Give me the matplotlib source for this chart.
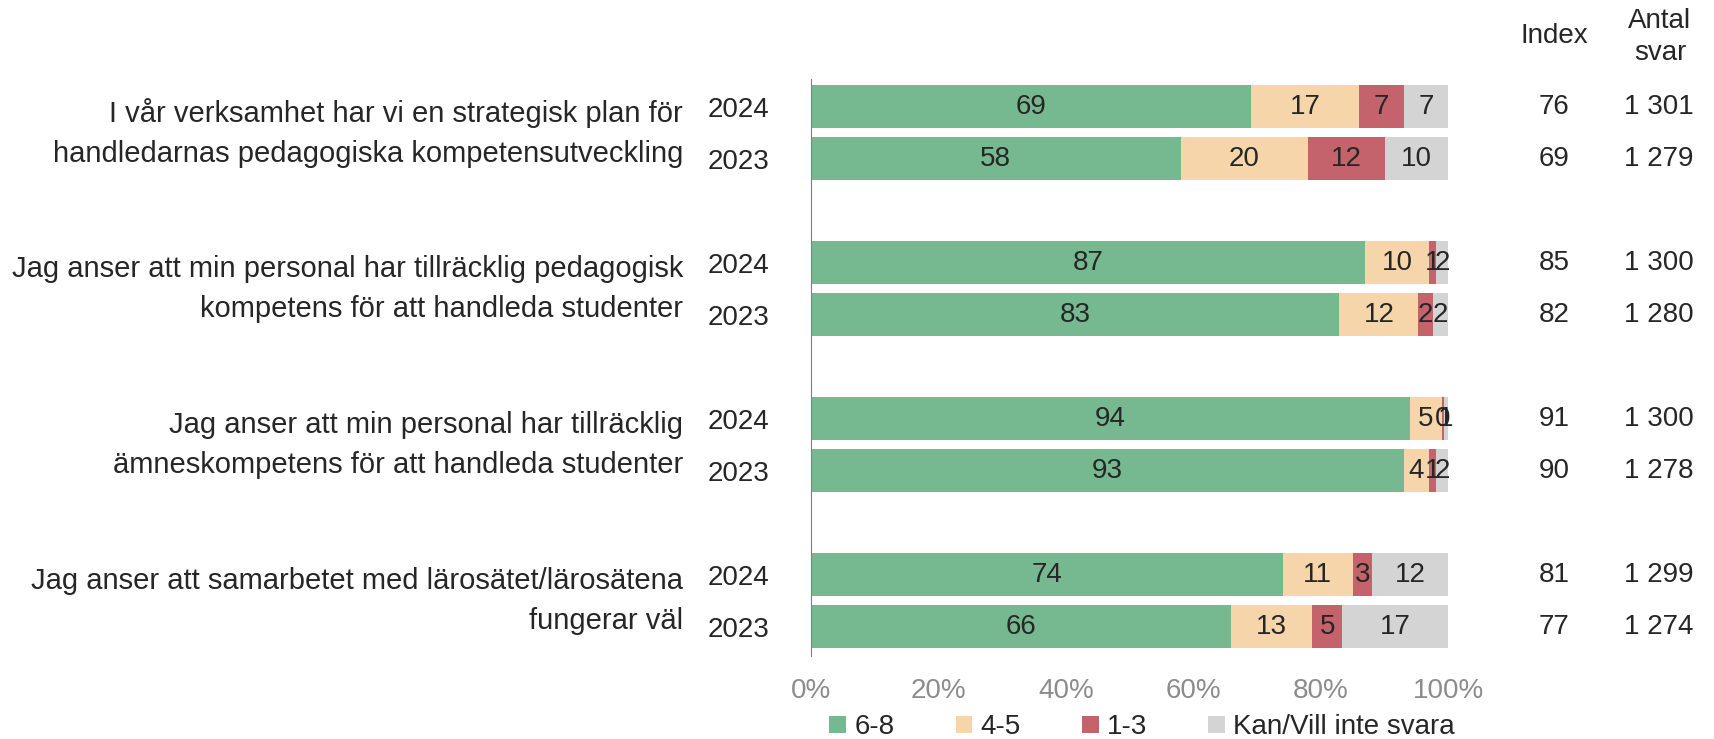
import numpy as np
import matplotlib.pyplot as plt
import matplotlib.transforms as mtransforms

plt.rcParams['font.family'] = ['Liberation Sans', 'DejaVu Sans']

questions = [
    "I vår verksamhet har vi en strategisk plan för\nhandledarnas pedagogiska kompetensutveckling",
    "Jag anser att min personal har tillräcklig pedagogisk\nkompetens för att handleda studenter",
    "Jag anser att min personal har tillräcklig\nämneskompetens för att handleda studenter",
    "Jag anser att samarbetet med lärosätet/lärosätena\nfungerar väl",
]
years = ["2024", "2023"] * 4
categories = ["6-8", "4-5", "1-3", "Kan/Vill inte svara"]

# one value per bar, top to bottom
high = [69, 58, 87, 82.9, 94, 93, 74, 65.9]
mid = [17, 20, 10, 12.4, 5, 4, 11, 12.7]
low = [7, 12, 1, 2.3, 0.3, 1, 3, 4.8]
na = [7, 10, 2, 2.4, 0.7, 2, 12, 16.6]
index_vals = ["76", "69", "85", "82", "91", "90", "81", "77"]
antal_vals = ["1 301", "1 279", "1 300", "1 280", "1 300", "1 278", "1 299", "1 274"]

colors = ["#76B990", "#F5D5A9", "#C4636B", "#D4D4D4"]
txt = '#262626'
fs = 20

ypos = np.array([0, 1, 3, 4, 6, 7, 9, 10])

fig = plt.figure(figsize=(17.14, 7.39), dpi=100)
ax = fig.add_axes([0.473, 0.112, 0.372, 0.781])

left = np.zeros(len(ypos))
for vals, col, lab in zip([high, mid, low, na], colors, categories):
    vals = np.array(vals)
    bars = ax.barh(ypos, vals, left=left, height=0.83, color=col, label=lab)
    ax.bar_label(bars, labels=[f"{v:.0f}" for v in vals], label_type='center',
                 fontsize=fs, color=txt)
    left += vals

ax.set_xlim(0, 100)
ax.set_ylim(10.57, -0.53)
ax.set_yticks(ypos)
ax.set_yticklabels(years, fontsize=fs, color=txt)
ax.set_xticks(np.arange(0, 101, 20))
ax.set_xticklabels([f"{t}%" for t in range(0, 101, 20)], fontsize=fs, color='#8C8C8C')
ax.tick_params(axis='y', length=0, pad=30)
ax.tick_params(axis='x', length=0, pad=16)
for s in ['top', 'right', 'bottom']:
    ax.spines[s].set_visible(False)
ax.spines['left'].set_color('#808080')

qtrans = mtransforms.blended_transform_factory(fig.transFigure, ax.transData)
for i, q in enumerate(questions):
    ax.text(683 / 1714, ypos[2 * i] + 0.5, q, transform=qtrans,
            ha='right', va='center', fontsize=21, color=txt, linespacing=1.55)

for i, y in enumerate(ypos):
    ax.text(1554 / 1714, y, index_vals[i], transform=qtrans, ha='center', va='center',
            fontsize=fs, color=txt)
    ax.text(1659 / 1714, y, antal_vals[i], transform=qtrans, ha='center', va='center',
            fontsize=fs, color=txt)

fig.text(1554 / 1714, 1 - 36 / 739, "Index", ha='center', va='center', fontsize=fs, color=txt)
fig.text(1660 / 1714, 1 - 37 / 739, "Antal\nsvar", ha='center', va='center', fontsize=fs,
         color=txt, linespacing=1.3)

ax.legend(loc='center', bbox_to_anchor=(0.52, -0.123), ncol=4, frameon=False, fontsize=fs,
          handlelength=0.6, handleheight=0.6, handletextpad=0.3, columnspacing=2.2,
          labelcolor=txt, borderaxespad=0)

fig.savefig("out.png", dpi=100)
